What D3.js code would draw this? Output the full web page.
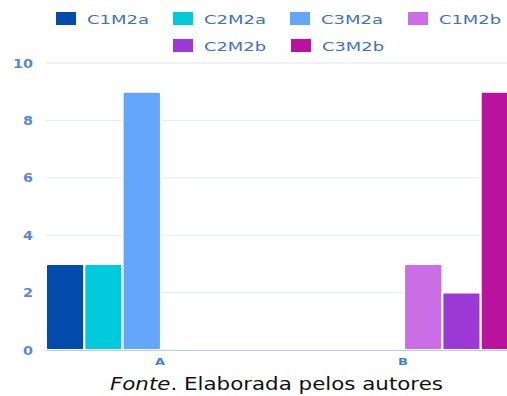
<!DOCTYPE html>
<html><head><meta charset="utf-8">
<script src="https://cdn.jsdelivr.net/npm/d3@7"></script>
<style>body{margin:0;background:#fff;overflow:hidden}svg{display:block}</style>
</head><body>
<svg id="c" width="507" height="396"></svg>
<script>
const categories = ["A", "B"];
const series = ["C1M2a", "C2M2a", "C3M2a", "C1M2b", "C2M2b", "C3M2b"];
const valuesA = [3, 3, 9, 0, 0, 0];
const valuesB = [0, 0, 0, 3, 2, 9];
const colors = ["#034aad", "#00cbdc", "#64a6fc", "#cb6de5", "#9b38d6", "#b8129e"];
const yTicks = [0, 2, 4, 6, 8, 10];
const caption = ["Fonte", ". Elaborada pelos autores"];

const data = categories.map((c, i) => ({cat: c, vals: i === 0 ? valuesA : valuesB}));
const svg = d3.select("#c");

const x = d3.scaleBand().domain(categories).range([46, 519]).paddingInner(0.055).paddingOuter(0);
const xs = d3.scaleBand().domain(series).range([0, x.bandwidth()]);
const y = d3.scaleLinear().domain([0, 10]).range([350, 63]);

// grid
svg.append("g").selectAll("line").data(yTicks.filter(d => d > 0)).join("line")
  .attr("x1", 46).attr("x2", 507).attr("y1", d => y(d)).attr("y2", d => y(d))
  .attr("stroke", "#e1e9f5").attr("stroke-width", 1);

// y tick labels
svg.append("g").selectAll("text").data(yTicks).join("text")
  .attr("x", 33).attr("y", d => y(d) + 4.5).attr("text-anchor", "end")
  .attr("font-family", "DejaVu Sans").attr("font-size", 12).attr("font-weight", "bold")
  .attr("fill", "#5a88d4")
  .attr("textLength", d => String(d).length * 10).attr("lengthAdjust", "spacingAndGlyphs")
  .text(d => d);

// bars
const groups = svg.append("g").selectAll("g").data(data).join("g")
  .attr("transform", d => `translate(${x(d.cat)},0)`);
groups.selectAll("rect").data(d => d.vals.map((v, i) => ({s: series[i], v, c: colors[i]})).filter(e => e.v > 0))
  .join("rect")
  .attr("x", d => xs(d.s)).attr("width", xs.bandwidth())
  .attr("y", d => y(d.v)).attr("height", d => y(0) - y(d.v))
  .attr("fill", d => d.c).attr("stroke", "#fff").attr("stroke-width", 2).attr("rx", 2);

// x axis line
svg.append("line").attr("x1", 46).attr("x2", 507).attr("y1", 350.5).attr("y2", 350.5)
  .attr("stroke", "#b7cbea").attr("stroke-width", 1.2);

// x labels
svg.append("g").selectAll("text").data(categories).join("text")
  .attr("x", d => x(d) + x.bandwidth() / 2 - 1).attr("y", 365).attr("text-anchor", "middle")
  .attr("font-family", "DejaVu Sans").attr("font-size", 9).attr("font-weight", "bold")
  .attr("fill", "#4a7fd0")
  .attr("textLength", 10).attr("lengthAdjust", "spacingAndGlyphs")
  .text(d => d);

// legend
const legendPos = [[56, 12], [173, 12], [290, 12], [408, 12], [173, 39], [291, 39]];
const lg = svg.append("g").selectAll("g").data(series).join("g")
  .attr("transform", (d, i) => `translate(${legendPos[i][0]},${legendPos[i][1]})`);
lg.append("rect").attr("width", 20).attr("height", 13).attr("fill", (d, i) => colors[i]);
lg.append("text").attr("x", 31).attr("y", 11.5)
  .attr("font-family", "DejaVu Sans").attr("font-size", 12.5)
  .attr("fill", "#3f70c4")
  .attr("textLength", 62).attr("lengthAdjust", "spacingAndGlyphs")
  .text(d => d);

// caption
const cap = svg.append("text").attr("x", 110).attr("y", 390)
  .attr("font-family", "DejaVu Sans").attr("font-size", 17.5).attr("fill", "#111")
  .attr("textLength", 333).attr("lengthAdjust", "spacingAndGlyphs");
cap.append("tspan").attr("font-style", "italic").text(caption[0]);
cap.append("tspan").text(caption[1]);
</script>
</body></html>
